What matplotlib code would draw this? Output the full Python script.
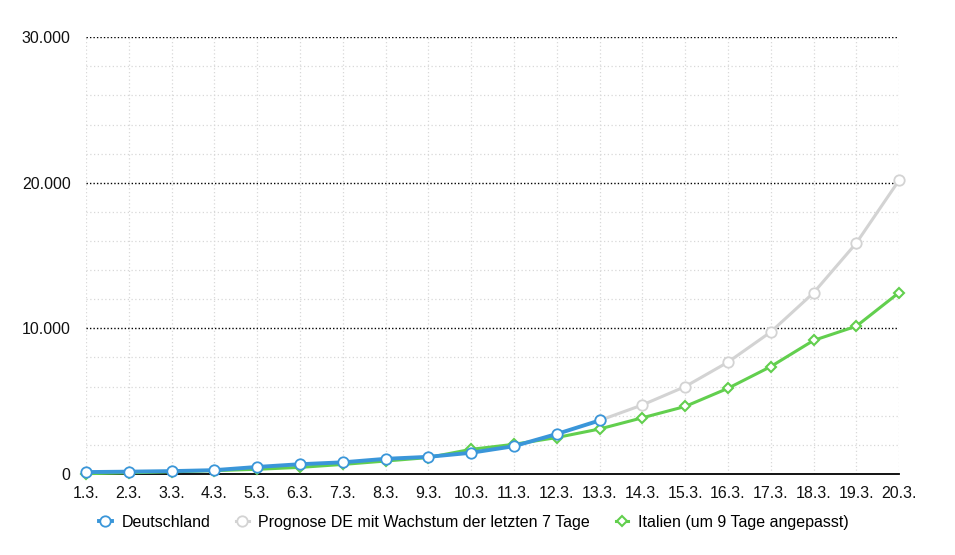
import matplotlib.pyplot as plt
from matplotlib.ticker import FixedLocator, FuncFormatter

plt.rcParams['font.family'] = ['Liberation Sans', 'DejaVu Sans']

days = ['1.3.', '2.3.', '3.3.', '4.3.', '5.3.', '6.3.', '7.3.', '8.3.', '9.3.', '10.3.',
        '11.3.', '12.3.', '13.3.', '14.3.', '15.3.', '16.3.', '17.3.', '18.3.', '19.3.', '20.3.']

# Deutschland, 1.3. - 13.3.
de = [130, 159, 196, 262, 482, 670, 799, 1040, 1176, 1457, 1908, 2745, 3675]
# Prognose ab 13.3.
prognose = [3675, 4740, 6000, 7680, 9750, 12440, 15860, 20180]
# Italien, um 9 Tage verschoben
italien = [20, 79, 150, 229, 322, 453, 655, 888, 1128, 1694, 2036, 2502, 3089,
           3858, 4636, 5883, 7375, 9172, 10149, 12462]

blue = '#3a96d9'
grey = '#d3d3d3'
green = '#62cf4e'

fig = plt.figure(figsize=(9.55, 5.55), dpi=100)
ax = fig.add_axes([0.090, 0.146, 0.8515, 0.787])

x_de = list(range(len(de)))
x_pr = list(range(len(de) - 1, len(de) - 1 + len(prognose)))
x_it = list(range(len(italien)))

ax.plot(x_pr, prognose, color=grey, lw=2.2, marker='o', ms=7.5, mfc='white',
        mec=grey, mew=1.3, clip_on=False, zorder=3,
        label='Prognose DE mit Wachstum der letzten 7 Tage')
ax.plot(x_it, italien, color=green, lw=2.2, marker='D', ms=5.5, mfc='white',
        mec=green, mew=1.5, clip_on=False, zorder=4,
        label='Italien (um 9 Tage angepasst)')
ax.plot(x_de, de, color=blue, lw=2.8, marker='o', ms=7.5, mfc='white',
        mec=blue, mew=1.3, clip_on=False, zorder=5, label='Deutschland')

ax.set_xlim(0, len(days) - 1)
ax.set_ylim(0, 30000)
ax.set_xticks(range(len(days)))
ax.set_xticklabels(days)
ax.set_yticks([0, 10000, 20000, 30000])
ax.yaxis.set_major_formatter(FuncFormatter(lambda v, p: f'{int(v):,}'.replace(',', '.')))
ax.yaxis.set_minor_locator(FixedLocator([v for v in range(2000, 30000, 2000) if v % 10000]))

ax.grid(axis='x', color='#d8d8d8', ls=(0, (1, 2)), lw=0.9)
ax.grid(axis='y', which='minor', color='#d8d8d8', ls=(0, (1, 2)), lw=0.9)
for v in [10000, 20000, 30000]:
    ax.axhline(v, color='black', ls=(0, (1, 1.5)), lw=1.0, zorder=1)
ax.set_axisbelow(True)

for s in ['top', 'right', 'left']:
    ax.spines[s].set_visible(False)
ax.spines['bottom'].set_color('black')
ax.spines['bottom'].set_linewidth(1.3)
ax.tick_params(axis='both', length=0, labelsize=11.5, colors='#111111')
ax.tick_params(axis='y', which='minor', length=0)
ax.tick_params(axis='x', pad=9)
ax.tick_params(axis='y', pad=11)

h, l = ax.get_legend_handles_labels()
order = [2, 0, 1]
ax.legend([h[i] for i in order], [l[i] for i in order], loc='upper center',
          bbox_to_anchor=(0.477, -0.06), ncol=3, frameon=False, fontsize=11.5,
          handlelength=0.8, columnspacing=1.6, handletextpad=0.6)

fig.savefig('out.png', dpi=100)
